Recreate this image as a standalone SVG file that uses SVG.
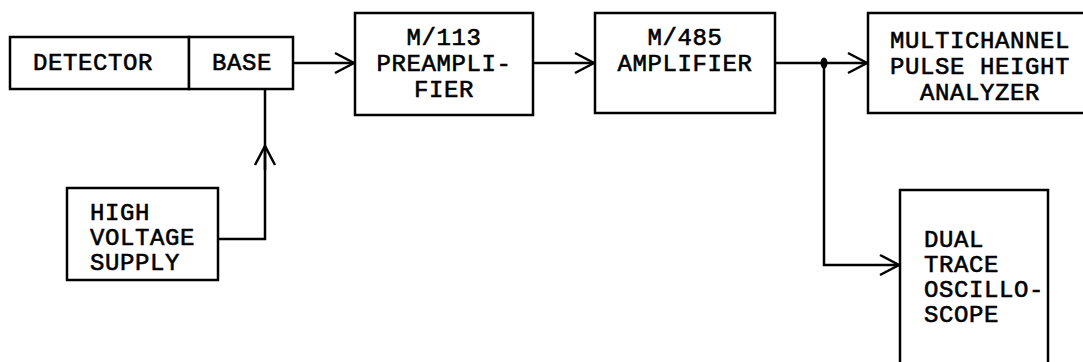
<svg xmlns="http://www.w3.org/2000/svg" width="1083" height="362" viewBox="0 0 1083 362">
<style>
.box{fill:#fff;stroke:#000;stroke-width:2.5}
.t{font-family:"Liberation Mono","Courier New",monospace;font-size:24px;letter-spacing:0.6px;fill:#000;stroke:#000;stroke-width:0.6}
.c{text-anchor:middle}
.w{fill:none;stroke:#000;stroke-width:2.5}
</style>
<defs>
<marker id="ah" markerUnits="userSpaceOnUse" markerWidth="30" markerHeight="30" viewBox="-22 -15 30 30" refX="0" refY="0" orient="auto">
<path d="M-19,-10 L0,0 L-19,10" fill="none" stroke="#000" stroke-width="2.5"/>
</marker>
</defs>
<rect width="1083" height="362" fill="#fff"/>
<g id="connectors">
<path class="w" d="M293,63 H354" marker-end="url(#ah)"/>
<path class="w" d="M533,63 H594" marker-end="url(#ah)"/>
<path class="w" d="M775,63 H867" marker-end="url(#ah)"/>
<path class="w" d="M824,63 V265 H899" marker-end="url(#ah)"/>
<path class="w" d="M218,239 H265 V89"/>
<path class="w" d="M265,170 V146" marker-end="url(#ah)"/>
<ellipse cx="824" cy="63" rx="3.5" ry="5.5" fill="#000"/>
</g>
<g id="detector">
<rect class="box" x="10" y="37" width="179" height="52"/>
<text class="t" x="33" y="70">DETECTOR</text>
</g>
<g id="base">
<rect class="box" x="189" y="37" width="104" height="52"/>
<text class="t c" x="242" y="70">BASE</text>
</g>
<g id="preamp">
<rect class="box" x="355" y="13" width="178" height="102"/>
<text class="t c" x="444" y="45">M/113</text>
<text class="t c" x="444" y="71">PREAMPLI-</text>
<text class="t c" x="444" y="97">FIER</text>
</g>
<g id="amplifier">
<rect class="box" x="595" y="13" width="180" height="100"/>
<text class="t c" x="685" y="45">M/485</text>
<text class="t c" x="685" y="71">AMPLIFIER</text>
</g>
<g id="mca">
<rect class="box" x="868" y="13" width="230" height="100"/>
<text class="t c" x="980" y="48">MULTICHANNEL</text>
<text class="t c" x="980" y="74">PULSE HEIGHT</text>
<text class="t c" x="980" y="100">ANALYZER</text>
</g>
<g id="hv">
<rect class="box" x="67" y="188" width="151" height="92"/>
<text class="t" x="90" y="220">HIGH</text>
<text class="t" x="90" y="245">VOLTAGE</text>
<text class="t" x="90" y="270">SUPPLY</text>
</g>
<g id="scope">
<rect class="box" x="900" y="190" width="148" height="190"/>
<text class="t" x="924" y="247">DUAL</text>
<text class="t" x="924" y="272">TRACE</text>
<text class="t" x="924" y="297">OSCILLO-</text>
<text class="t" x="924" y="322">SCOPE</text>
</g>
</svg>
